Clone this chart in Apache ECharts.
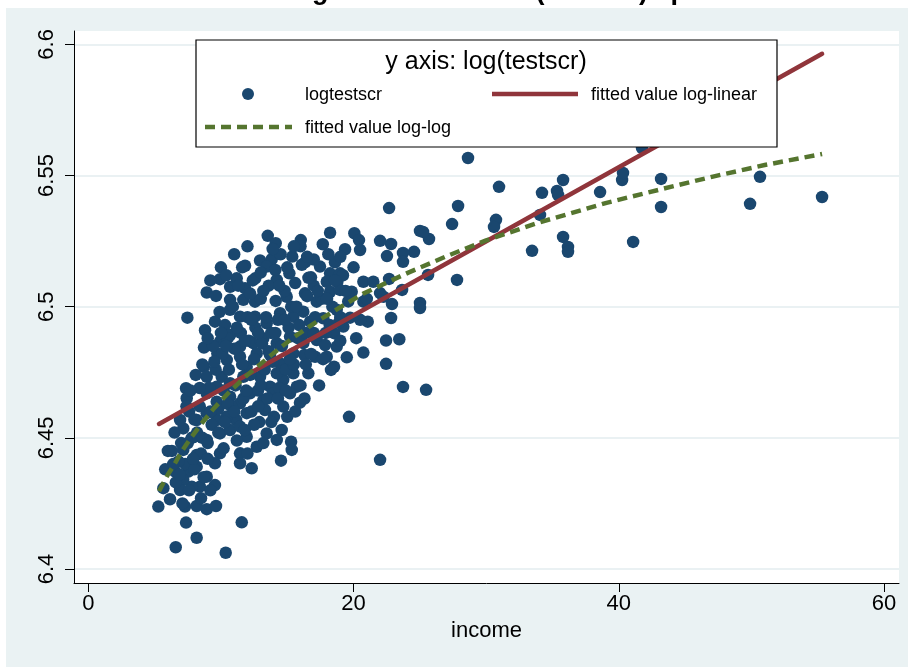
<!DOCTYPE html>
<html>
<head>
<meta charset="utf-8">
<script src="https://cdn.jsdelivr.net/npm/echarts@6/dist/echarts.min.js"></script>
<style>
  html, body { margin: 0; padding: 0; background: #ffffff; }
  #chart { width: 908px; height: 667px; }
</style>
</head>
<body>
<div id="chart"></div>
<script>
// District observations: [income, log(testscr)]
const districts = [
  [55.33, 6.5418], [50.65, 6.5495], [49.90, 6.5392], [43.19, 6.5487], [43.19, 6.5380],
  [41.08, 6.5247], [40.25, 6.5483], [40.32, 6.5510], [38.59, 6.5437], [35.80, 6.5483],
  [35.34, 6.5441], [35.42, 6.5426], [34.21, 6.5434], [34.06, 6.5350], [35.80, 6.5266],
  [36.17, 6.5228], [36.17, 6.5209], [33.46, 6.5213], [30.74, 6.5331], [30.59, 6.5304],
  [30.97, 6.5457], [28.63, 6.5567], [27.88, 6.5384], [27.43, 6.5315], [27.80, 6.5102],
  [25.69, 6.5258], [25.01, 6.5289], [25.24, 6.5285], [24.56, 6.5209], [23.73, 6.5205],
  [23.73, 6.5171], [22.83, 6.5239], [22.52, 6.5193], [22.68, 6.5376], [22.00, 6.5251],
  [25.62, 6.5121], [25.01, 6.5014], [25.01, 6.4995], [23.66, 6.5064], [22.90, 6.5010],
  [22.83, 6.4957], [22.68, 6.5106], [22.00, 6.5052], [41.75, 6.5605], [23.73, 6.4694],
  [25.47, 6.4683], [22.00, 6.4416], [19.66, 6.4580], [22.25, 6.5038], [22.45, 6.4871],
  [23.45, 6.4876], [22.45, 6.4782],
  [13.53, 6.5270], [14.13, 6.5242], [16.02, 6.5254], [18.23, 6.5282], [20.06, 6.5280],
  [20.41, 6.5254], [17.68, 6.5238], [19.36, 6.5219], [20.49, 6.5216], [12.95, 6.5176],
  [13.83, 6.5181], [13.45, 6.5153], [15.38, 6.5191], [16.34, 6.5169], [11.82, 6.5156],
  [12.59, 6.5108], [14.21, 6.5102], [15.16, 6.5127], [16.79, 6.5112], [17.47, 6.5153],
  [18.60, 6.5169], [18.23, 6.5127], [18.98, 6.5127], [18.78, 6.5095], [17.98, 6.5095],
  [9.93, 6.5105], [10.69, 6.5076], [11.19, 6.5108], [11.82, 6.5070], [8.93, 6.5054],
  [9.63, 6.5041], [10.69, 6.5026], [11.69, 6.5026], [12.57, 6.5019], [14.13, 6.5022],
  [14.96, 6.5038], [16.34, 6.5051], [17.22, 6.5019], [18.23, 6.5057], [18.98, 6.5064],
  [19.86, 6.5057], [20.74, 6.5095], [21.49, 6.5095], [20.74, 6.5019], [21.07, 6.4943],
  [19.74, 6.4958], [7.47, 6.4958], [9.55, 6.4943], [10.31, 6.4930], [10.69, 6.4988],
  [11.44, 6.4962], [12.57, 6.4962], [13.45, 6.4937], [14.46, 6.4975], [15.46, 6.4962],
  [16.21, 6.4981], [16.72, 6.4943], [17.72, 6.4956], [18.73, 6.4988], [19.23, 6.4924],
  [18.53, 6.4899], [8.72, 6.4844], [9.93, 6.4867], [10.69, 6.4892], [11.44, 6.4848],
  [12.44, 6.4861], [13.20, 6.4880], [14.21, 6.4861], [15.21, 6.4886], [16.21, 6.4861],
  [17.22, 6.4873], [17.85, 6.4854], [18.73, 6.4848], [9.73, 6.4822], [10.44, 6.4797],
  [11.44, 6.4809], [11.94, 6.4771], [12.70, 6.4822], [13.70, 6.4816], [14.46, 6.4784],
  [15.46, 6.4822], [16.29, 6.4816], [17.10, 6.4809], [17.98, 6.4809], [18.53, 6.4771],
  [19.49, 6.4807], [20.74, 6.4825], [18.30, 6.4759], [16.59, 6.4746], [8.72, 6.4771],
  [8.93, 6.4733], [10.06, 6.4733], [9.68, 6.4695], [10.69, 6.4708], [11.69, 6.4733],
  [12.95, 6.4733], [13.70, 6.4695], [14.70, 6.4721], [15.46, 6.4746], [15.72, 6.4695],
  [15.21, 6.4670], [15.96, 6.4634], [14.21, 6.4746], [7.37, 6.4689], [7.42, 6.4651],
  [8.93, 6.4670], [9.68, 6.4638], [10.69, 6.4657], [11.44, 6.4632], [12.19, 6.4670],
  [13.20, 6.4644], [13.95, 6.4670], [14.70, 6.4619], [13.32, 6.4606], [11.94, 6.4594],
  [11.14, 6.4568], [10.44, 6.4581], [9.68, 6.4568], [8.93, 6.4594], [8.17, 6.4568],
  [7.16, 6.4536], [6.92, 6.4568], [7.99, 6.4504], [8.93, 6.4492], [9.93, 6.4517],
  [10.69, 6.4530], [11.44, 6.4543], [11.94, 6.4504], [12.70, 6.4466], [13.45, 6.4517],
  [14.21, 6.4492], [14.58, 6.4530], [15.29, 6.4485], [15.34, 6.4454], [14.53, 6.4413],
  [7.16, 6.4454], [8.17, 6.4435], [9.93, 6.4441], [11.44, 6.4441], [12.32, 6.4384],
  [11.44, 6.4403], [9.55, 6.4403], [6.54, 6.4371], [7.54, 6.4371], [8.17, 6.4390],
  [8.93, 6.4352], [9.55, 6.4320], [8.42, 6.4314], [7.80, 6.4314], [7.16, 6.4339],
  [6.92, 6.4301], [5.66, 6.4308], [6.16, 6.4266], [5.28, 6.4238], [7.29, 6.4238],
  [8.17, 6.4240], [8.93, 6.4228], [9.63, 6.4240], [7.37, 6.4177], [11.57, 6.4178],
  [8.17, 6.4119], [6.59, 6.4083], [10.36, 6.4062],
  [8.4, 6.4620], [8.6, 6.4780], [8.8, 6.4910], [9.1, 6.4690], [9.3, 6.4550],
  [9.4, 6.4850], [9.6, 6.4760], [9.8, 6.4610], [9.9, 6.4980], [10.1, 6.4820],
  [10.2, 6.4680], [10.3, 6.4560], [10.5, 6.4880], [10.6, 6.4760], [10.8, 6.4620],
  [10.9, 6.5000], [11.0, 6.4840], [11.1, 6.4700], [11.2, 6.4490], [11.3, 6.5080],
  [11.5, 6.4900], [11.6, 6.4780], [11.7, 6.4650], [11.8, 6.4530], [12.0, 6.4960],
  [12.1, 6.4870], [12.2, 6.4740], [12.3, 6.4600], [12.4, 6.5100], [12.5, 6.4800],
  [12.6, 6.4920], [12.8, 6.4680], [12.9, 6.4560], [13.0, 6.5030], [13.1, 6.4860],
  [13.3, 6.4760], [13.4, 6.4960], [13.5, 6.4650], [13.6, 6.5080], [13.8, 6.4900],
  [13.9, 6.4790], [14.0, 6.4580], [14.1, 6.5140], [14.3, 6.4950], [14.4, 6.4690],
  [14.6, 6.4850], [14.8, 6.5060], [14.9, 6.4760], [15.0, 6.4580], [15.1, 6.4920],
  [15.3, 6.5000], [15.5, 6.4780], [15.6, 6.5090], [15.8, 6.4880], [16.0, 6.4700],
  [16.1, 6.5160], [16.4, 6.4900], [16.5, 6.5040], [16.8, 6.4820], [17.0, 6.5080],
  [17.1, 6.4960], [17.4, 6.4700], [17.6, 6.5030], [17.9, 6.4900], [18.1, 6.5200],
  [18.4, 6.5000], [18.9, 6.4940], [19.2, 6.5120], [19.6, 6.5020],
  [7.0, 6.4480], [7.3, 6.4400], [7.6, 6.4600], [7.8, 6.4500], [8.0, 6.4380],
  [8.2, 6.4520], [8.5, 6.4440], [8.7, 6.4350], [9.0, 6.4420], [9.2, 6.4300],
  [6.8, 6.4410], [6.3, 6.4450], [6.6, 6.4330], [7.1, 6.4250], [5.8, 6.4380],
  [10.0, 6.5150], [11.0, 6.5200], [12.0, 6.5230], [13.0, 6.5130], [14.5, 6.5200],
  [15.0, 6.5150], [16.0, 6.5230], [17.0, 6.5180], [19.0, 6.5190], [20.0, 6.5150],
  [21.0, 6.5030], [20.5, 6.4950], [19.0, 6.4870], [20.2, 6.4880],
  [9.2, 6.5100], [10.4, 6.5120], [11.6, 6.5150], [12.2, 6.5050], [13.2, 6.5060],
  [14.4, 6.5080], [15.7, 6.5000], [16.6, 6.5110], [17.3, 6.5060], [18.0, 6.5030],
  [18.6, 6.5100], [19.4, 6.5060], [13.9, 6.5220], [15.5, 6.5230], [16.5, 6.5190],
  [9.0, 6.4880], [9.5, 6.4790], [10.0, 6.4900], [10.4, 6.4850], [11.2, 6.4920],
  [11.8, 6.4870], [12.3, 6.4950], [12.8, 6.4900], [13.6, 6.4830], [14.1, 6.4900],
  [14.8, 6.4950], [15.2, 6.4800], [15.9, 6.4930], [16.4, 6.4780], [17.0, 6.4900],
  [17.7, 6.4800], [18.2, 6.4930], [19.0, 6.4960],
  [8.4, 6.4690], [9.2, 6.4600], [9.8, 6.4520], [10.5, 6.4630], [11.0, 6.4600],
  [11.9, 6.4680], [12.5, 6.4550], [13.0, 6.4700], [13.8, 6.4560], [14.3, 6.4650],
  [14.9, 6.4680], [15.6, 6.4600], [16.3, 6.4650], [12.0, 6.4440], [13.2, 6.4480],
  [10.2, 6.4460], [12.8, 6.4620],
  [6.0, 6.4450], [6.4, 6.4400], [7.5, 6.4480], [7.9, 6.4420], [8.5, 6.4270],
  [7.6, 6.4300], [6.9, 6.4360], [8.0, 6.4570], [7.4, 6.4620], [6.5, 6.4520],
  [7.7, 6.4680], [8.1, 6.4740], [8.6, 6.4500], [9.0, 6.4480]
];

// Fitted log-linear regression line (income, fitted log(testscr))
const logLinearIncome = [5.33, 55.33];
const logLinearFit = [6.4553, 6.5964];

// Fitted log-log regression values (income, fitted log(testscr))
const logLogIncome = [5.33, 6.0, 6.5, 7.0, 7.67, 8.5, 9.5, 10.69, 12.0, 13.95, 15.5, 17.22,
                      19.0, 20.74, 22.0, 24.13, 27.0, 30.0, 34.06, 39.0, 43.36, 47.1, 51.0, 55.33];
const logLogFit = [6.4297, 6.4360, 6.4400, 6.4445, 6.4495, 6.4552, 6.4614, 6.4678, 6.4740, 6.4822,
                   6.4884, 6.4943, 6.4998, 6.5050, 6.5080, 6.5130, 6.5192, 6.5253, 6.5322, 6.5395,
                   6.5450, 6.5496, 6.5540, 6.5582];

const xTicks = [0, 20, 40, 60];
const yTicks = [6.4, 6.45, 6.5, 6.55, 6.6];
const yTickLabels = ['6.4', '6.45', '6.5', '6.55', '6.6'];

const NAVY = '#1a476f';
const MAROON = '#90353b';
const OLIVE = '#55752f';
const FONT = '"Liberation Sans", Arial, Helvetica, sans-serif';

const chart = echarts.init(document.getElementById('chart'), null, { renderer: 'canvas' });

const pairs = (xs, ys) => xs.map((x, i) => [x, ys[i]]);

chart.setOption({
  backgroundColor: '#ffffff',
  animation: false,
  textStyle: { fontFamily: FONT },
  grid: {
    left: 74, right: 9, top: 31, bottom: 84,
    show: true, backgroundColor: '#ffffff', borderWidth: 0
  },
  xAxis: {
    type: 'value',
    min: -1.08, max: 61.13,
    name: 'income',
    nameLocation: 'middle',
    nameGap: 36,
    nameTextStyle: { fontSize: 22, color: '#000', fontFamily: FONT },
    axisLine: { show: true, onZero: false, lineStyle: { color: '#000', width: 1 } },
    axisTick: { show: true, inside: false, length: 9, customValues: xTicks, lineStyle: { color: '#000', width: 1 } },
    axisLabel: { show: true, margin: 10, fontSize: 22, color: '#000', fontFamily: FONT, customValues: xTicks },
    splitLine: { show: false }
  },
  yAxis: {
    type: 'value',
    min: 6.39466, max: 6.6051,
    axisLine: { show: true, onZero: false, lineStyle: { color: '#000', width: 1 } },
    axisTick: { show: true, inside: false, length: 9, customValues: yTicks, lineStyle: { color: '#000', width: 1 } },
    axisLabel: {
      show: true, margin: 16, fontSize: 22, color: '#000', fontFamily: FONT, rotate: 90,
      customValues: yTicks,
      formatter: v => {
        const i = yTicks.findIndex(t => Math.abs(t - v) < 1e-9);
        return i >= 0 ? yTickLabels[i] : '';
      }
    },
    splitLine: { show: true, lineStyle: { color: '#e3ecef', width: 1.5 } }
  },
  series: [
    {
      name: 'logtestscr',
      type: 'scatter',
      data: districts,
      symbol: 'circle',
      symbolSize: 12.5,
      itemStyle: { color: NAVY, opacity: 1 },
      z: 2
    },
    {
      name: 'fitted value log-linear',
      type: 'line',
      data: pairs(logLinearIncome, logLinearFit),
      showSymbol: false,
      lineStyle: { color: MAROON, width: 4.5, cap: 'round' },
      z: 3
    },
    {
      name: 'fitted value log-log',
      type: 'line',
      data: pairs(logLogIncome, logLogFit),
      showSymbol: false,
      smooth: false,
      lineStyle: { color: OLIVE, width: 4.5, type: [10, 6], cap: 'butt' },
      z: 4
    }
  ],
  graphic: {
    elements: [
      // graph region background
      { type: 'rect', z: -100, silent: true,
        shape: { x: 6, y: 8, width: 902, height: 659 },
        style: { fill: '#eaf2f3' } },
      // title, mostly above the frame
      { type: 'text', z: 100, silent: true,
        style: { x: 472, y: 5, text: 'Test scores: log-linear versus ln(income) specification',
                 align: 'center', verticalAlign: 'bottom',
                 font: 'bold 27px ' + FONT, fill: '#000' } },
      // legend box
      { type: 'rect', z: 100, silent: true,
        shape: { x: 196, y: 40, width: 581, height: 107 },
        style: { fill: '#ffffff', stroke: '#000', lineWidth: 1.2 } },
      { type: 'text', z: 101, silent: true,
        style: { x: 486, y: 62, text: 'y axis: log(testscr)', align: 'center', verticalAlign: 'middle',
                 font: '25px ' + FONT, fill: '#000' } },
      { type: 'circle', z: 101, silent: true,
        shape: { cx: 248, cy: 94, r: 6 }, style: { fill: NAVY } },
      { type: 'text', z: 101, silent: true,
        style: { x: 305, y: 95, text: 'logtestscr', align: 'left', verticalAlign: 'middle',
                 font: '18px ' + FONT, fill: '#000' } },
      { type: 'line', z: 101, silent: true,
        shape: { x1: 492, y1: 94, x2: 578, y2: 94 },
        style: { stroke: MAROON, lineWidth: 4.5 } },
      { type: 'text', z: 101, silent: true,
        style: { x: 591, y: 95, text: 'fitted value log-linear', align: 'left', verticalAlign: 'middle',
                 font: '18px ' + FONT, fill: '#000' } },
      { type: 'line', z: 101, silent: true,
        shape: { x1: 205, y1: 127, x2: 292, y2: 127 },
        style: { stroke: OLIVE, lineWidth: 4.5, lineDash: [10, 6] } },
      { type: 'text', z: 101, silent: true,
        style: { x: 305, y: 128, text: 'fitted value log-log', align: 'left', verticalAlign: 'middle',
                 font: '18px ' + FONT, fill: '#000' } }
    ]
  }
});
</script>
</body>
</html>
